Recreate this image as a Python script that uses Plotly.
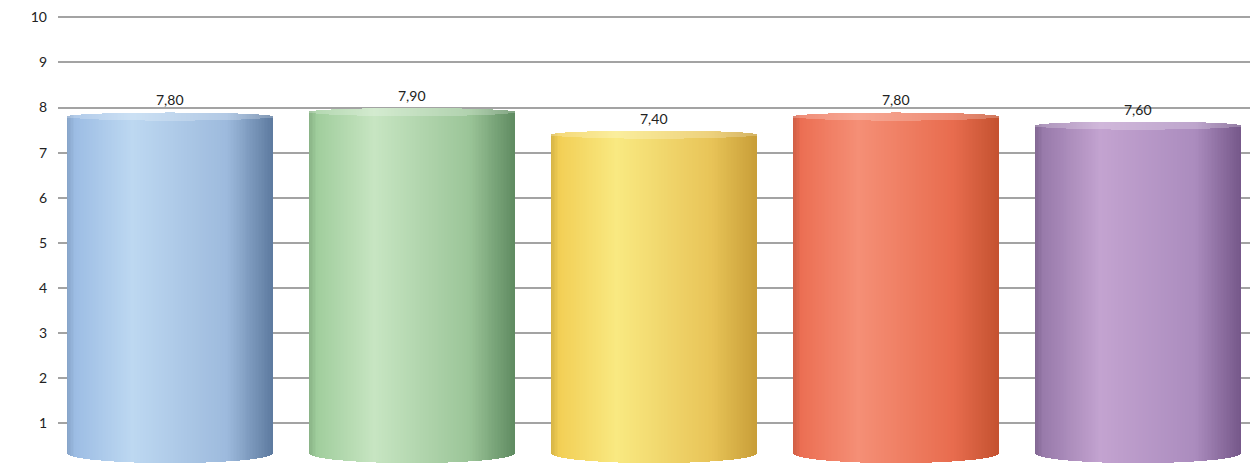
import numpy as np
import plotly.graph_objects as go

# ---- data ----
categories = ["A", "B", "C", "D", "E"]
values = [7.8, 7.9, 7.4, 7.8, 7.6]
y_ticks = [1, 2, 3, 4, 5, 6, 7, 8, 9, 10]

# colour stops across each cylinder (left edge, highlight, right body, right edge)
palettes = [
    ["#98b9e2", "#bdd8f1", "#9dbadd", "#5d7a9f"],
    ["#9aca97", "#c7e5c2", "#9bc598", "#5f8b61"],
    ["#f1cb4f", "#f9e981", "#e8c458", "#c89e38"],
    ["#ea6a4e", "#f58f76", "#e86c4e", "#c4522f"],
    ["#9274a5", "#c3a3d0", "#ab8cbe", "#76588a"],
]
stop_pos = [0.0, 0.32, 0.78, 1.0]

BAR_W = 0.85        # cylinder width in category units
N_STRIPES = 140     # vertical slices used to shade each cylinder
CAP_H = 0.09        # half-height of the top ellipse (data units)
BOT_C = 0.34        # bottom ellipse centre
BOT_H = 0.22        # bottom ellipse half-height


def hex_rgb(h):
    h = h.lstrip("#")
    return np.array([int(h[i:i + 2], 16) for i in (0, 2, 4)], dtype=float)


def shade(stops, t, lighten=0.0):
    cols = [hex_rgb(c) for c in stops]
    rgb = np.array([np.interp(t, stop_pos, [c[k] for c in cols]) for k in range(3)])
    # darken the very left rim slightly
    rim = np.clip((0.04 - t) / 0.04, 0, 1) * 0.12
    rgb = rgb * (1 - rim)
    rgb = rgb + (255 - rgb) * lighten
    return "rgb({:.0f},{:.0f},{:.0f})".format(*rgb)


fig = go.Figure()

u = (np.arange(N_STRIPES) + 0.5) / N_STRIPES * 2 - 1   # -1..1 across the cylinder
s = np.sqrt(1 - u ** 2)
t = (u + 1) / 2
stripe_w = BAR_W / N_STRIPES * 1.6

for i, (v, pal) in enumerate(zip(values, palettes)):
    xs = i + u * BAR_W / 2
    base_side = BOT_C - BOT_H * s
    top_side = v - CAP_H * s
    side_cols = [shade(pal, tt) for tt in t]
    cap_cols = [shade(pal, tt, 0.22) for tt in t]

    fig.add_trace(go.Bar(
        x=xs, y=top_side - base_side, base=base_side, width=stripe_w,
        marker=dict(color=side_cols, line=dict(width=0)),
        hoverinfo="skip", showlegend=False,
    ))
    fig.add_trace(go.Bar(
        x=xs, y=2 * CAP_H * s, base=top_side, width=stripe_w,
        marker=dict(color=cap_cols, line=dict(width=0)),
        hoverinfo="skip", showlegend=False,
    ))
    fig.add_annotation(
        x=i, y=v + CAP_H, text=f"{v:.2f}".replace(".", ","),
        showarrow=False, yanchor="bottom", yshift=2,
        font=dict(family="Lato, Open Sans, sans-serif", size=14, color="#222222"),
    )

fig.update_layout(
    width=1254, height=464,
    margin=dict(l=58, r=4, t=0, b=0),
    paper_bgcolor="white", plot_bgcolor="white",
    barmode="overlay", bargap=0,
    xaxis=dict(range=[-0.463, 4.463], showticklabels=False, showgrid=False,
               zeroline=False, showline=False, fixedrange=True),
    yaxis=dict(range=[0.1, 10.383], tickvals=y_ticks,
               ticktext=[str(v) for v in y_ticks],
               showgrid=True, gridcolor="#a3a3a3", gridwidth=1.5,
               zeroline=False, showline=False, ticks="",
               ticklabelstandoff=10,
               tickfont=dict(family="Lato, Open Sans, sans-serif", size=14, color="#222222")),
)
fig.update_traces(cliponaxis=True)

fig.write_html("out.html")
